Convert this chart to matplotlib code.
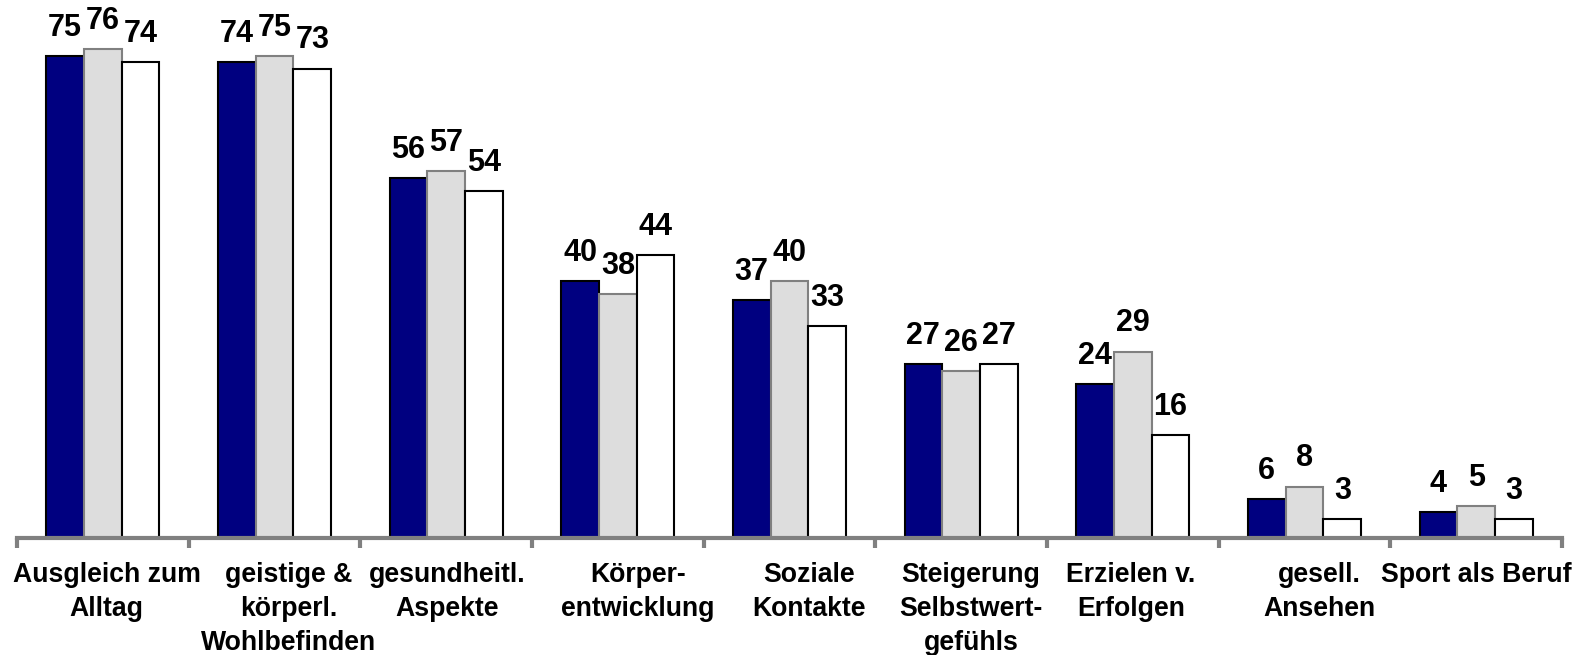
import numpy as np
import matplotlib
matplotlib.use("Agg")
import matplotlib.pyplot as plt
from matplotlib.transforms import ScaledTranslation

plt.rcParams['font.family'] = ['Liberation Sans', 'DejaVu Sans']

categories = ["Ausgleich zum\nAlltag", "geistige &\nkörperl.\nWohlbefinden",
              "gesundheitl.\nAspekte", "Körper-\nentwicklung", "Soziale\nKontakte",
              "Steigerung\nSelbstwert-\ngefühls", "Erzielen v.\nErfolgen",
              "gesell.\nAnsehen", "Sport als Beruf"]
series_a = [75, 74, 56, 40, 37, 27, 24, 6, 4]
series_b = [76, 75, 57, 38, 40, 26, 29, 8, 5]
series_c = [74, 73, 54, 44, 33, 27, 16, 3, 3]

# small horizontal shifts of the category labels (pixels), as in the original layout
label_shift = [4, 14, 1, 20, 20, 10, -2, 15, 0]

fig = plt.figure(figsize=(15.78, 6.55), dpi=100)
base = 538
ax = fig.add_axes([17 / 1578, 1 - base / 655, (1562 - 17) / 1578, base / 655])

x = np.arange(len(categories))
w = 0.22
styles = [(series_a, '#000080', 'black'),
          (series_b, '#dddddd', '#808080'),
          (series_c, 'white', 'black')]
for k, (vals, fc, ec) in enumerate(styles):
    pos = x + (k - 1) * w
    ax.bar(pos, vals, width=w, color=fc, edgecolor=ec, linewidth=1.5, zorder=2)
    for px, v in zip(pos, vals):
        ax.annotate(str(v), (px, v), xytext=(0, 14.5), textcoords='offset points',
                    ha='center', va='baseline', fontsize=22, fontweight='bold')

ax.set_xlim(-0.5, len(categories) - 0.5)
ax.set_ylim(0, base / 6.43)

for s in ['top', 'right', 'left']:
    ax.spines[s].set_visible(False)
ax.spines['bottom'].set_color('#808080')
ax.spines['bottom'].set_linewidth(3)
ax.spines['bottom'].set_zorder(3)
ax.set_yticks([])

ax.set_xticks(x)
ax.set_xticklabels(categories, fontsize=19.2, fontweight='bold', linespacing=1.38, va='top')
ax.tick_params(axis='x', which='major', length=0, pad=17.5)
for lab, dx in zip(ax.get_xticklabels(), label_shift):
    lab.set_transform(lab.get_transform() + ScaledTranslation(dx / 100, 0, fig.dpi_scale_trans))
ax.set_xticks(np.arange(-0.5, len(categories)), minor=True)
ax.tick_params(axis='x', which='minor', length=7, width=3, color='#808080', direction='out')

fig.savefig('out.png', dpi=100)
